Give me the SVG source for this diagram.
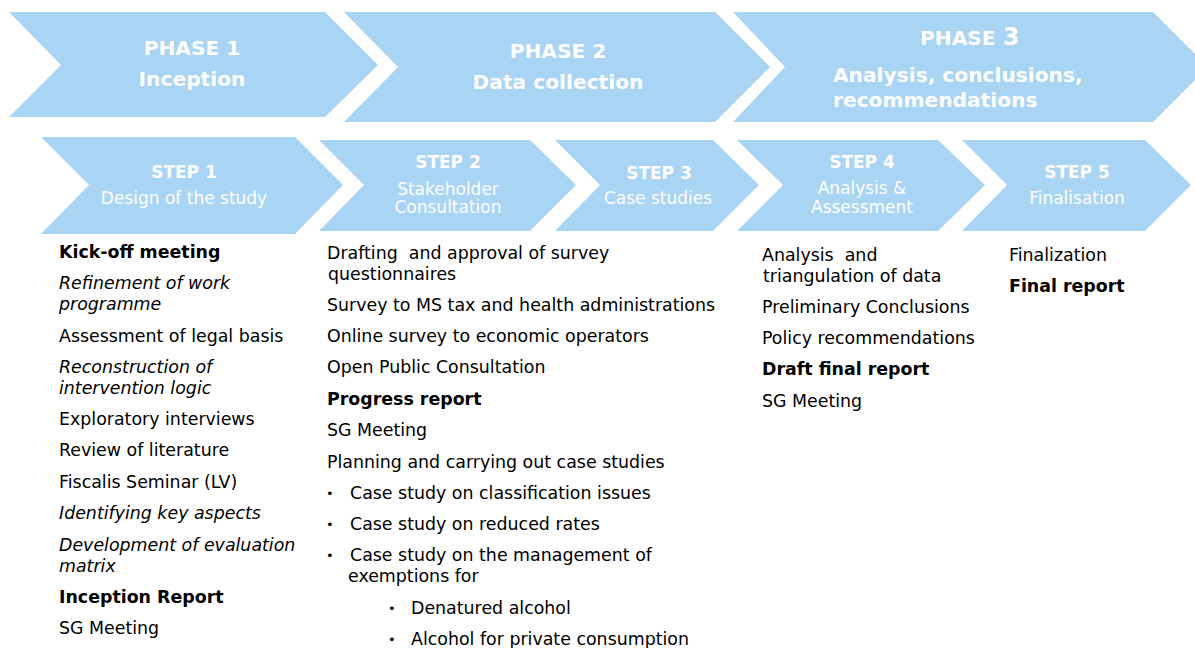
<svg xmlns="http://www.w3.org/2000/svg" width="1195" height="648" viewBox="0 0 1195 648">
<style>
.chev{fill:#A9D4F4}
.ph{font-family:"DejaVu Sans",Verdana,sans-serif;font-weight:bold;font-size:20.2px;fill:#fff}
.stb{font-family:"DejaVu Sans",Verdana,sans-serif;font-weight:bold;font-size:17px;fill:#fff}
.stn{font-family:"DejaVu Sans",Verdana,sans-serif;font-size:17px;fill:#fff}
.t{font-family:"DejaVu Sans",Verdana,sans-serif;font-size:17.4px;fill:#000;white-space:pre}
.bu{font-family:"DejaVu Sans",Verdana,sans-serif;font-size:13px;fill:#000}
.b{font-weight:bold}
.i{font-style:italic}
</style>
<rect width="1195" height="648" fill="#fff"/>
<g id="phase1">
<polygon class="chev" points="9,12 325,12 378,65 325,117 9,117 61,65"/>
<text class="ph" x="192" y="55" text-anchor="middle">PHASE 1</text>
<text class="ph" x="192" y="86" text-anchor="middle">Inception</text>
</g>
<g id="phase2">
<polygon class="chev" points="344,12 715,12 770,67 715,122 344,122 398,67"/>
<text class="ph" x="558" y="58" text-anchor="middle">PHASE 2</text>
<text class="ph" x="558" y="89" text-anchor="middle">Data collection</text>
</g>
<g id="phase3">
<polygon class="chev" points="733,12 1153,12 1208,67 1153,122 733,122 785,67"/>
<text class="ph" x="920" y="45">PHASE <tspan font-size="24">3</tspan></text>
<text class="ph" x="833" y="82">Analysis, conclusions,</text>
<text class="ph" x="833" y="107">recommendations</text>
</g>
<g id="step1">
<polygon class="chev" points="41,137 295,137 343,185 295,234 41,234 89,185"/>
<text class="stb" x="184" y="178" text-anchor="middle">STEP 1</text>
<text class="stn" x="184" y="204" text-anchor="middle">Design of the study</text>
</g>
<g id="step2">
<polygon class="chev" points="319,140 530,140 576,185 530,231 319,231 364,185"/>
<text class="stb" x="448" y="168" text-anchor="middle">STEP 2</text>
<text class="stn" x="448" y="195" text-anchor="middle">Stakeholder</text>
<text class="stn" x="448" y="213" text-anchor="middle">Consultation</text>
</g>
<g id="step3">
<polygon class="chev" points="555,140 713,140 759,185 713,231 555,231 600,185"/>
<text class="stb" x="659" y="179" text-anchor="middle">STEP 3</text>
<text class="stn" x="658" y="204" text-anchor="middle">Case studies</text>
</g>
<g id="step4">
<polygon class="chev" points="737,140 938,140 985,185 938,231 737,231 783,185"/>
<text class="stb" x="862" y="168" text-anchor="middle">STEP 4</text>
<text class="stn" x="862" y="194" text-anchor="middle">Analysis &amp;</text>
<text class="stn" x="862" y="213" text-anchor="middle">Assessment</text>
</g>
<g id="step5">
<polygon class="chev" points="962,140 1145,140 1191,185 1145,231 962,231 1007,185"/>
<text class="stb" x="1077" y="178" text-anchor="middle">STEP 5</text>
<text class="stn" x="1077" y="204" text-anchor="middle">Finalisation</text>
</g>
<g id="list1">
<text class="t b" x="59" y="258">Kick-off meeting</text>
<text class="t i" x="59" y="289">Refinement of work</text>
<text class="t i" x="59" y="310">programme</text>
<text class="t" x="59" y="342">Assessment of legal basis</text>
<text class="t i" x="59" y="373">Reconstruction of</text>
<text class="t i" x="59" y="394">intervention logic</text>
<text class="t" x="59" y="425">Exploratory interviews</text>
<text class="t" x="59" y="456">Review of literature</text>
<text class="t" x="59" y="488">Fiscalis Seminar (LV)</text>
<text class="t i" x="59" y="519">Identifying key aspects</text>
<text class="t i" x="59" y="551">Development of evaluation</text>
<text class="t i" x="59" y="572">matrix</text>
<text class="t b" x="59" y="603">Inception Report</text>
<text class="t" x="59" y="634">SG Meeting</text>
</g>
<g id="list2">
<text class="t" x="327" y="259">Drafting  and approval of survey</text>
<text class="t" x="328" y="280">questionnaires</text>
<text class="t" x="327" y="311">Survey to MS tax and health administrations</text>
<text class="t" x="327" y="342">Online survey to economic operators</text>
<text class="t" x="327" y="373">Open Public Consultation</text>
<text class="t b" x="327" y="405">Progress report</text>
<text class="t" x="327" y="436">SG Meeting</text>
<text class="t" x="327" y="468">Planning and carrying out case studies</text>
<text class="bu" x="326" y="498">•</text>
<text class="t" x="350" y="499">Case study on classification issues</text>
<text class="bu" x="326" y="529">•</text>
<text class="t" x="350" y="530">Case study on reduced rates</text>
<text class="bu" x="326" y="560">•</text>
<text class="t" x="350" y="561">Case study on the management of</text>
<text class="t" x="348" y="582">exemptions for</text>
<text class="bu" x="388" y="613">•</text>
<text class="t" x="411" y="614">Denatured alcohol</text>
<text class="bu" x="388" y="644">•</text>
<text class="t" x="411" y="645">Alcohol for private consumption</text>
</g>
<g id="list3">
<text class="t" x="762" y="261">Analysis  and</text>
<text class="t" x="763" y="282">triangulation of data</text>
<text class="t" x="762" y="313">Preliminary Conclusions</text>
<text class="t" x="762" y="344">Policy recommendations</text>
<text class="t b" x="762" y="375">Draft final report</text>
<text class="t" x="762" y="407">SG Meeting</text>
</g>
<g id="list4">
<text class="t" x="1009" y="261">Finalization</text>
<text class="t b" x="1009" y="292">Final report</text>
</g>
<g id="connectors"/>
</svg>
